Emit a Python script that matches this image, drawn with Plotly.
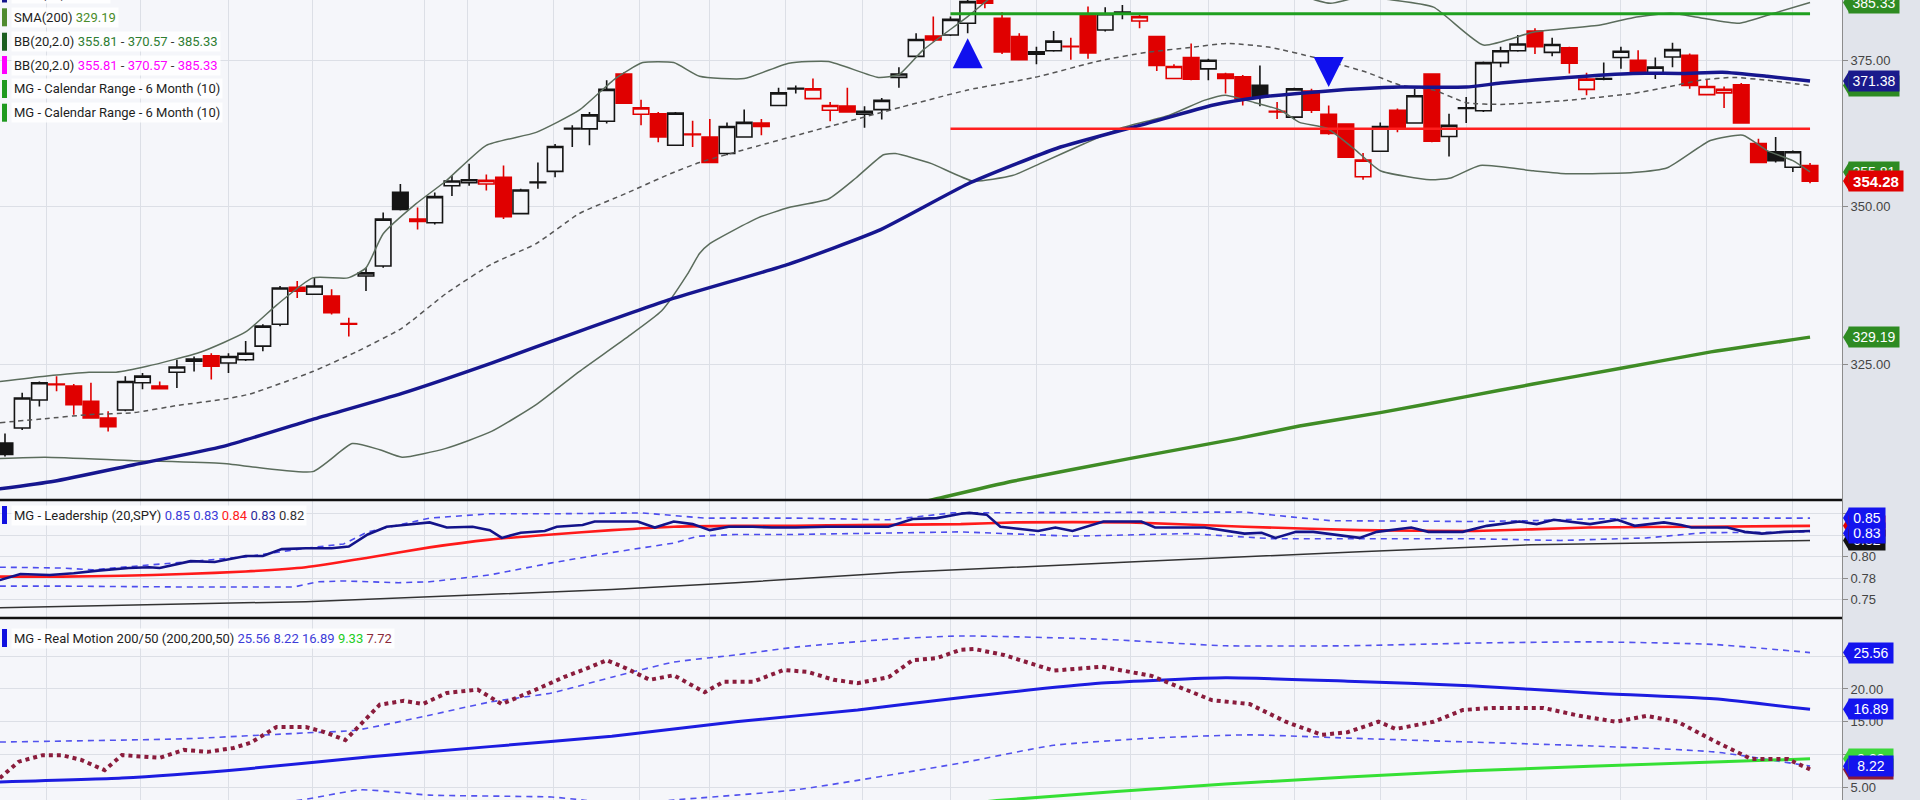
import math
import plotly.graph_objects as go

# ---------------- price panel data (daily candles, index = trading day) ----------------
PREV_CLOSE = 310.0
opens = [313.2, 315.4, 319.6, 322.0, 321.7, 319.4, 316.9, 318.1, 322.2, 321.7,
         323.8, 325.5, 326.3, 325.2, 325.7, 327.8, 331.2, 337.0, 335.9, 335.6,
         331.3, 338.8, 340.4, 352.4, 348.0, 347.4, 353.5, 354.0, 353.8, 354.9,
         348.9, 354.0, 355.9, 363.1, 363.1, 364.4, 372.6, 365.6, 365.7, 360.3,
         362.2, 361.7, 358.9, 361.7, 364.1, 367.1, 370.0, 368.3, 366.3, 367.0,
         365.6, 366.4, 372.0, 375.7, 379.3, 379.5, 381.6, 387.0, 382.5, 379.2,
         376.5, 376.7, 377.5, 383.1, 380.4, 383.5, 382.0, 379.2, 371.8, 375.5,
         373.5, 372.6, 372.1, 370.6, 366.1, 365.1, 369.6, 365.6, 363.9, 355.0,
         359.3, 366.3, 364.1, 372.6, 361.8, 366.6, 366.2, 374.6, 376.7, 380.2,
         376.4, 377.2, 369.9, 371.7, 375.5, 375.0, 372.8, 375.6, 375.9, 369.0,
         369.3, 370.7, 360.6, 359.2, 356.6, 356.9]
highs = [314.6, 320.7, 322.4, 323.2, 322.0, 322.2, 317.9, 323.2, 323.7, 322.4,
         325.7, 326.2, 326.7, 326.7, 328.6, 331.2, 337.2, 338.0, 338.5, 336.7,
         332.2, 340.1, 349.1, 353.8, 349.9, 352.4, 355.2, 357.2, 355.4, 356.9,
         353.0, 357.4, 360.5, 363.7, 366.0, 371.5, 372.9, 368.1, 366.0, 366.0,
         364.5, 364.8, 364.2, 366.4, 364.8, 370.2, 370.6, 371.8, 367.7, 370.2,
         367.0, 368.4, 373.8, 379.8, 382.8, 382.8, 386.5, 387.5, 383.6, 379.8,
         377.4, 380.2, 379.0, 384.6, 384.5, 384.9, 383.4, 379.3, 374.3, 378.0,
         375.3, 372.8, 372.4, 374.1, 367.7, 370.2, 370.0, 367.1, 364.0, 359.0,
         364.2, 366.6, 370.0, 372.7, 365.7, 368.6, 374.8, 377.4, 379.5, 380.7,
         379.0, 377.4, 372.8, 374.6, 377.4, 376.8, 375.5, 378.1, 376.2, 371.6,
         370.4, 371.0, 361.4, 361.7, 359.4, 357.3]
lows = [311.2, 315.1, 318.6, 320.9, 317.4, 316.8, 314.9, 317.9, 321.2, 321.2,
        321.4, 323.9, 322.7, 323.7, 325.5, 327.0, 330.9, 335.3, 335.8, 332.7,
        329.3, 336.4, 340.1, 349.4, 346.3, 347.1, 351.8, 353.5, 352.7, 348.0,
        348.8, 353.0, 354.9, 360.0, 360.3, 364.0, 367.4, 363.7, 360.8, 360.2,
        360.0, 357.3, 358.6, 361.6, 362.0, 367.0, 369.2, 368.2, 364.4, 365.9,
        363.3, 364.7, 370.2, 375.6, 378.3, 379.3, 379.8, 384.3, 376.1, 375.0,
        374.3, 376.5, 375.1, 375.3, 380.1, 382.3, 380.7, 373.1, 371.7, 371.5,
        371.5, 369.2, 367.1, 367.0, 364.8, 364.7, 365.8, 362.1, 358.2, 354.5,
        359.2, 362.5, 364.0, 360.8, 358.4, 364.1, 366.0, 373.8, 376.5, 376.1,
        375.7, 372.7, 368.9, 371.5, 373.5, 372.6, 371.7, 373.8, 370.0, 368.9,
        366.7, 364.0, 357.3, 357.4, 355.8, 353.9]
closes = [311.5, 319.9, 322.2, 321.9, 318.9, 316.9, 315.6, 322.4, 323.2, 321.3,
          324.6, 325.8, 324.7, 326.2, 326.7, 330.9, 336.9, 336.4, 337.2, 333.0,
          331.2, 339.3, 348.0, 349.6, 347.6, 351.7, 354.3, 354.5, 354.4, 348.4,
          352.8, 354.1, 360.1, 363.2, 365.5, 369.9, 367.5, 366.7, 361.7, 365.8,
          362.1, 357.4, 363.5, 364.2, 363.5, 369.3, 370.1, 370.0, 367.1, 366.0,
          366.1, 368.0, 372.6, 378.7, 378.6, 382.3, 385.5, 385.2, 376.5, 375.1,
          376.1, 378.4, 377.4, 376.3, 383.3, 383.6, 382.8, 374.1, 373.9, 371.7,
          375.0, 371.8, 368.3, 368.6, 366.0, 370.0, 366.3, 362.3, 358.3, 357.8,
          363.5, 363.1, 368.8, 361.0, 363.7, 366.7, 374.6, 376.7, 377.9, 377.4,
          377.8, 374.5, 371.7, 371.8, 376.6, 372.7, 373.8, 376.9, 370.6, 370.4,
          369.9, 364.1, 357.4, 357.7, 359.2, 354.28]

# overlays (x = trading-day index)
sma50_x = [-0.3, 2.85, 7.5, 12.7, 17.9, 23.1, 28.3, 33.4, 38.7, 45.6, 50.8, 56.0, 61.2, 66.4,
           70.3, 72.9, 76.8, 81.2, 85.0, 87.0, 90.9, 94.7, 97.6, 99.9, 102.5, 105]
sma50_y = [306.5, 307.6, 310.0, 312.7, 316.7, 320.6, 325.2, 330.1, 335.1, 340.7, 346.1, 353.8,
           359.8, 364.0, 367.2, 368.5, 369.6, 370.3, 370.3, 371.0, 372.0, 372.7, 372.7, 372.9,
           372.2, 371.38]
sma200_x = [48.0, 53.9, 58.6, 65.4, 71.6, 75.3, 80.0, 85.0, 88.9, 94.0, 99.0, 105]
sma200_y = [301.5, 304.9, 307.6, 310.9, 313.8, 315.7, 317.7, 320.1, 322.0, 324.4, 326.8, 329.19]

bb_up_x = [-0.29, 2.33, 4.89, 6.46, 8.26, 11.4, 14.0, 15.8, 17.9, 19.95, 21.0, 22.0, 23.9, 25.65,
           28.0, 30.9, 33.4, 35.5, 37.1, 38.9, 40.4, 43.0, 45.6, 47.9, 50.8, 52.0, 53.4, 56.0,
           57.9, 61.4, 66.6, 72.4, 75.3, 77.1, 78.8, 80.7, 83.1, 86.0, 88.9, 92.8, 94.7, 96.9,
           98.6, 100.9, 102.9, 105.0]
bb_up_y = [322.4, 323.2, 323.8, 323.8, 324.7, 326.9, 330.0, 334.2, 338.5, 338.5, 340.1, 345.6,
           350.5, 354.3, 360.3, 362.5, 366.3, 371.8, 374.6, 374.6, 372.2, 371.8, 374.5, 374.8,
           372.0, 372.5, 376.8, 382.8, 387.6, 393.1, 395.0, 391.3, 386.7, 385.2, 386.3, 385.8,
           384.5, 377.7, 380.0, 381.3, 382.6, 383.4, 382.6, 381.6, 383.4, 385.33]
bb_mid_x = [-0.29, 2.33, 4.89, 7.5, 10.1, 12.7, 14.25, 17.9, 20.5, 23.1, 25.65, 28.3, 30.9, 33.4,
            36.1, 38.7, 40.4, 44.3, 48.2, 52.1, 56.0, 59.9, 63.8, 66.4, 69.0, 71.1, 73.6, 76.3,
            79.2, 81.2, 83.1, 85.0, 87.0, 90.9, 94.7, 96.7, 98.6, 100.5, 102.5, 105.0]
bb_mid_y = [316.2, 316.8, 317.4, 317.7, 318.8, 319.7, 320.5, 323.9, 327.0, 330.6, 336.0, 340.7,
            344.0, 348.9, 352.2, 355.5, 357.4, 360.6, 363.7, 366.8, 369.8, 372.0, 375.0, 376.4,
            377.3, 378.0, 377.3, 375.4, 372.9, 370.6, 369.8, 367.6, 367.3, 368.0, 369.2, 370.3,
            371.5, 372.0, 371.5, 370.57]
bb_lo_x = [-0.29, 2.33, 7.5, 12.7, 17.9, 20.2, 21.8, 23.1, 25.65, 28.3, 30.9, 33.4, 36.1, 38.2,
           39.7, 40.4, 41.0, 43.8, 45.6, 47.9, 49.5, 51.1, 51.8, 53.9, 56.3, 58.6, 60.2, 62.8,
           64.9, 67.7, 69.75, 71.0, 72.7, 74.2, 75.3, 76.9, 78.6, 80.0, 82.9, 84.1, 85.8, 88.9,
           90.9, 94.7, 96.7, 99.2, 101.1, 102.5, 104.0, 105.0]
bb_lo_y = [310.9, 311.1, 310.6, 310.2, 309.0, 313.1, 312.2, 311.1, 312.4, 314.9, 318.9, 323.9,
           329.0, 333.3, 339.1, 342.4, 344.0, 348.2, 349.9, 351.3, 354.8, 358.7, 358.9, 357.2,
           354.3, 355.2, 357.2, 360.6, 363.2, 365.4, 368.0, 368.9, 367.6, 366.3, 364.2, 363.2,
           359.4, 356.0, 354.5, 354.8, 356.9, 356.0, 355.5, 355.7, 356.5, 361.1, 362.0, 359.4,
           357.7, 355.81]

cal_x = [55, 105]
cal_high = [383.3, 383.3]
cal_low = [363.1, 363.1]

sig_up_x = [56]
sig_up_y = [378.9]
sig_dn_x = [77]
sig_dn_y = [370.3]

# ---------------- leadership panel ----------------
lead_x = [-0.3, 0.9, 2.6, 4.0, 5.4, 7.2, 8.4, 9.0, 10.8, 12.2, 14.0, 15.0, 16.1, 17.5, 19.0, 20.0,
          21.1, 22.2, 23.2, 24.7, 25.7, 27.2, 28.2, 28.9, 30.0, 31.4, 32.1, 33.6, 34.3, 35.3, 36.8,
          37.8, 38.9, 40.0, 41.0, 42.1, 43.5, 44.6, 46.0, 47.8, 49.6, 51.4, 52.8, 54.2, 55.6, 56.1,
          57.1, 57.9, 60.1, 61.1, 62.1, 63.9, 66.1, 66.9, 69.8, 72.1, 73.1, 73.9, 75.1, 76.1, 78.8,
          79.8, 81.8, 82.8, 84.8, 86.2, 88.1, 89.1, 90.1, 92.2, 93.8, 94.8, 96.5, 97.5, 98.1, 100.2,
          101.2, 102.2, 103.5, 104.4, 105]
lead_y = [0.773, 0.780, 0.779, 0.781, 0.784, 0.787, 0.788, 0.787, 0.795, 0.794, 0.801, 0.801,
          0.809, 0.810, 0.810, 0.812, 0.826, 0.835, 0.837, 0.840, 0.834, 0.835, 0.831, 0.822,
          0.828, 0.830, 0.835, 0.837, 0.841, 0.841, 0.841, 0.834, 0.841, 0.838, 0.831, 0.835,
          0.835, 0.834, 0.834, 0.835, 0.835, 0.835, 0.844, 0.845, 0.850, 0.851, 0.849, 0.835,
          0.830, 0.834, 0.830, 0.841, 0.841, 0.834, 0.834, 0.827, 0.828, 0.822, 0.829, 0.829,
          0.822, 0.829, 0.834, 0.829, 0.829, 0.836, 0.841, 0.838, 0.843, 0.838, 0.843, 0.836,
          0.840, 0.837, 0.834, 0.834, 0.829, 0.827, 0.829, 0.830, 0.830]
lead_ma_x = [-0.3, 3.3, 6.8, 10.4, 14.0, 17.5, 21.1, 24.7, 28.2, 31.8, 35.3, 38.9, 42.5, 46.0,
             49.6, 55.6, 58.8, 65.4, 72.1, 78.8, 85.5, 92.1, 98.8, 105]
lead_ma_y = [0.777, 0.777, 0.778, 0.780, 0.783, 0.788, 0.799, 0.811, 0.820, 0.826, 0.831, 0.835,
             0.836, 0.836, 0.837, 0.838, 0.840, 0.840, 0.835, 0.831, 0.830, 0.834, 0.835, 0.836]
lead_up_x = [-0.3, 3.3, 5.1, 10.4, 14.0, 17.5, 19.7, 21.1, 24.7, 28.2, 31.8, 37.1, 40.7, 46.0,
             51.4, 55.1, 72.1, 75.5, 77.1, 85.5, 88.8, 92.1, 97.2, 105]
lead_up_y = [0.788, 0.787, 0.785, 0.794, 0.800, 0.810, 0.815, 0.829, 0.845, 0.850, 0.850, 0.851,
             0.845, 0.845, 0.843, 0.851, 0.852, 0.845, 0.842, 0.841, 0.842, 0.844, 0.845, 0.845]
lead_lo_x = [-0.3, 3.3, 10.4, 16.8, 18.2, 19.7, 22.9, 24.7, 28.2, 31.8, 35.3, 38.9, 40.3, 42.5,
             46.0, 49.6, 55.6, 62.1, 68.8, 73.8, 78.8, 85.5, 90.5, 95.5, 98.8, 105]
lead_lo_y = [0.766, 0.766, 0.765, 0.765, 0.771, 0.772, 0.770, 0.771, 0.779, 0.793, 0.805, 0.816,
             0.824, 0.826, 0.826, 0.827, 0.829, 0.824, 0.827, 0.821, 0.821, 0.821, 0.819, 0.822,
             0.828, 0.829]
lead_long_x = [-0.3, 17.5, 35.3, 42.5, 52.1, 55.6, 65.4, 78.8, 88.8, 105]
lead_long_y = [0.741, 0.748, 0.762, 0.770, 0.782, 0.785, 0.794, 0.806, 0.814, 0.819]

# ---------------- real motion panel ----------------
rm_x = [-0.3, 0.8, 2.2, 3.3, 4.4, 5.8, 6.8, 8.3, 9.0, 10.4, 11.8, 13.3, 14.3, 15.8, 17.5, 18.6,
        19.8, 21.8, 23.2, 24.3, 25.7, 27.5, 28.2, 28.9, 30.7, 32.5, 33.9, 35.0, 36.1, 37.5, 38.9,
        40.7, 41.8, 43.5, 45.3, 46.7, 48.2, 49.6, 51.4, 52.8, 54.2, 55.6, 56.4, 58.1, 61.0, 63.8,
        66.7, 70.2, 72.4, 74.5, 76.6, 78.1, 79.9, 80.9, 83.1, 84.8, 86.6, 89.5, 91.6, 93.7, 95.5,
        97.3, 99.4, 101.6, 103.7, 105]
rm_y = [6.4, 8.9, 9.9, 9.9, 9.2, 7.6, 9.9, 9.6, 9.5, 10.7, 10.4, 11.0, 11.8, 14.2, 14.2, 13.4,
        12.2, 17.6, 18.2, 17.7, 19.4, 19.9, 18.8, 17.7, 19.7, 21.8, 23.2, 24.4, 23.2, 21.4, 22.1,
        19.5, 21.1, 21.1, 22.9, 22.6, 21.4, 20.9, 21.8, 24.4, 24.7, 26.0, 26.1, 25.2, 22.8, 23.4,
        22.0, 18.3, 17.7, 15.0, 13.0, 13.4, 15.0, 13.9, 15.0, 16.8, 17.1, 17.1, 15.9, 15.0, 15.9,
        15.0, 12.1, 9.3, 9.3, 7.72]
rm_ma_x = [-0.3, 6.8, 14.0, 21.1, 28.2, 35.3, 42.5, 49.6, 55.3, 63.8, 71.0, 78.1, 85.2, 92.3, 99.4, 105]
rm_ma_y = [5.8, 6.4, 7.8, 9.6, 11.2, 12.8, 15.0, 16.8, 18.6, 20.9, 21.7, 21.2, 20.5, 19.4, 18.5, 16.89]
rm_up_x = [-0.3, 10.4, 17.5, 20.4, 24.7, 28.2, 31.8, 35.3, 38.9, 42.5, 46.0, 51.4, 55.6, 63.8,
           71.0, 78.1, 85.2, 92.3, 99.4, 105]
rm_up_y = [11.9, 12.4, 13.3, 13.7, 16.0, 18.0, 19.4, 21.8, 24.1, 25.2, 26.4, 27.6, 28.1, 27.6,
           26.6, 26.6, 27.0, 27.2, 26.8, 25.56]
rm_lo_x = [-0.3, 10.0, 17.2, 20.7, 24.7, 31.8, 33.6, 35.8, 38.9, 46.0, 55.6, 61.0, 66.7, 72.4,
           78.1, 85.2, 92.3, 99.4, 105]
rm_lo_y = [1.0, 1.5, 3.05, 4.6, 3.8, 3.5, 3.05, 2.3, 3.05, 4.6, 8.7, 11.4, 12.5, 13.0, 12.5,
           11.9, 11.3, 10.4, 8.22]
rm_long_x = [52.1, 58.1, 71.0, 85.2, 99.4, 105]
rm_long_y = [1.5, 3.05, 5.5, 7.5, 8.85, 9.33]

# x positions of the vertical grid lines (trading-day index)
grid_x = [2.4, 7.9, 13.0, 17.9, 24.4, 26.9, 31.9, 36.9, 41.0, 45.4, 49.9, 55.0, 60.0, 65.5,
          70.0, 75.0, 80.0, 85.0, 88.5, 94.0, 99.0, 104.0]

# right-axis value badges: (value, label)
top_badges = [(385.33, "385.33", "g"), (370.57, "370.57", "g"), (371.38, "371.38", "navy"),
              (355.81, "355.81", "g"), (354.28, "354.28", "red"), (329.19, "329.19", "g")]
mid_badges = [(0.836, "0.84", "red"), (0.819, "0.82", "black"), (0.8275, "0.83", "blue"),
              (0.845, "0.85", "blue")]
bot_badges = [(7.72, "7.72", "maroon"), (9.33, "9.33", "lime"), (8.22, "8.22", "blue"),
              (16.89, "16.89", "blue"), (25.56, "25.56", "blue")]
lead_legend_vals = ["0.85", "0.83", "0.84", "0.83", "0.82"]
rm_legend_vals = ["25.56", "8.22", "16.89", "9.33", "7.72"]

# ---------------- styles ----------------
PLOT_BG = "#f5f6fa"
PAPER_BG = "#e1e4eb"
GRID = "#dcdfe6"
C_BLACK = "#151515"
C_RED = "#e00000"
BADGE = {"g": "#2e8b22", "navy": "#1a1a8c", "red": "#e00000", "blue": "#1414ee",
         "black": "#111111", "maroon": "#8b1a3a", "lime": "#3ad63a"}
FONT = "Liberation Sans, Arial, sans-serif"
LFONT = "Roboto, Liberation Sans, sans-serif"

fig = go.Figure()

# candles, split into the four hollow/filled x black/red styles
prev_close = [PREV_CLOSE] + closes[:-1]
styles = [
    (lambda o, c, p: c >= o and c >= p, C_BLACK, PLOT_BG),
    (lambda o, c, p: c < o and c < p, C_RED, C_RED),
    (lambda o, c, p: c >= o and c < p, C_RED, PLOT_BG),
    (lambda o, c, p: c < o and c >= p, C_BLACK, C_BLACK),
]
for test, col, fill in styles:
    sel = [i for i in range(len(closes)) if test(opens[i], closes[i], prev_close[i])]
    if not sel:
        continue
    st = dict(line=dict(color=col, width=1.6), fillcolor=fill)
    fig.add_trace(go.Candlestick(
        x=sel, open=[opens[i] for i in sel], high=[highs[i] for i in sel],
        low=[lows[i] for i in sel], close=[closes[i] for i in sel],
        increasing=st, decreasing=st, whiskerwidth=0, showlegend=False,
        hoverinfo="skip", xaxis="x", yaxis="y"))


def add_line(xs, ys, yaxis, color, width, dash=None, shape="linear"):
    ln = dict(color=color, width=width, shape=shape)
    if dash:
        ln["dash"] = dash
    if shape == "spline":
        ln["smoothing"] = 0.5
    fig.add_trace(go.Scatter(x=xs, y=ys, mode="lines", line=ln, xaxis="x", yaxis=yaxis,
                             hoverinfo="skip", showlegend=False))


# price overlays
add_line(bb_up_x, bb_up_y, "y", "#5b6c5c", 1.5, shape="spline")
add_line(bb_lo_x, bb_lo_y, "y", "#5b6c5c", 1.5, shape="spline")
add_line(bb_mid_x, bb_mid_y, "y", "#555555", 1.5, dash="5px,4px", shape="spline")
add_line(sma200_x, sma200_y, "y", "#3f8c25", 3.5, shape="spline")
add_line(sma50_x, sma50_y, "y", "#16168f", 3.5, shape="spline")
add_line(cal_x, cal_high, "y", "#1fa01f", 3)
add_line(cal_x, cal_low, "y", "#ff1f1f", 2.5)
fig.add_trace(go.Scatter(x=sig_up_x, y=sig_up_y, mode="markers", xaxis="x", yaxis="y",
                         marker=dict(symbol="arrow-up", size=30, color="#1010ee", line=dict(width=0)),
                         hoverinfo="skip", showlegend=False))
fig.add_trace(go.Scatter(x=sig_dn_x, y=sig_dn_y, mode="markers", xaxis="x", yaxis="y",
                         marker=dict(symbol="arrow-down", size=30, color="#1010ee", line=dict(width=0)),
                         hoverinfo="skip", showlegend=False))

# leadership
add_line(lead_long_x, lead_long_y, "y2", "#333333", 1.5)
add_line(lead_up_x, lead_up_y, "y2", "#4d4dee", 1.6, dash="6px,5px")
add_line(lead_lo_x, lead_lo_y, "y2", "#4d4dee", 1.6, dash="6px,5px")
add_line(lead_ma_x, lead_ma_y, "y2", "#ff1a1a", 2.6, shape="spline")
add_line(lead_x, lead_y, "y2", "#13138a", 2.6)

# real motion
add_line(rm_up_x, rm_up_y, "y3", "#5252ee", 1.6, dash="6px,5px", shape="spline")
add_line(rm_lo_x, rm_lo_y, "y3", "#5252ee", 1.6, dash="6px,5px", shape="spline")
add_line(rm_long_x, rm_long_y, "y3", "#35e035", 3, shape="spline")
add_line(rm_ma_x, rm_ma_y, "y3", "#1c1ce0", 3, shape="spline")
add_line(rm_x, rm_y, "y3", "#8a1c3c", 4, dash="dot")

# ---------------- annotations / shapes ----------------
annotations = []
shapes = []


def badge(yref, value, text, key, log=False, width=46, bold=False, size=14):
    col = BADGE[key]
    annotations.append(dict(
        xref="paper", x=1, xanchor="left", xshift=6,
        yref=yref, y=math.log10(value) if log else value, yanchor="middle",
        text="<b>%s</b>" % text if bold else text, showarrow=False,
        font=dict(family=FONT, size=size, color="white"),
        bgcolor=col, borderpad=2, width=width, height=16, align="center"))
    shapes.append(dict(
        type="path", xref="paper", xsizemode="pixel", xanchor=1,
        yref=yref, ysizemode="pixel", yanchor=value,
        path="M1,0 L7,10 L7,-10 Z", fillcolor=col, line=dict(width=0), layer="above"))


for v, t, k in top_badges:
    badge("y", v, t, k, log=True, width=50 if k == "red" else 46, bold=(k == "red"),
          size=15 if k == "red" else 14)
for v, t, k in mid_badges:
    badge("y2", v, t, k, width=32)
for v, t, k in bot_badges:
    badge("y3", v, t, k, width=40)

PLOT_W = 1842.0
FIG_H = 800.0


def legend_line(ypx, label, values, bar):
    parts = [label]
    for txt, col in values:
        parts.append('<span style="color:%s">%s</span>' % (col, txt))
    annotations.append(dict(
        xref="paper", yref="paper", x=11 / PLOT_W, y=1 - ypx / FIG_H,
        xanchor="left", yanchor="middle", text=" ".join(parts) if values else label,
        showarrow=False, font=dict(family=LFONT, size=13, color="#1e1e1e"),
        bgcolor="rgba(255,255,255,0.85)", borderpad=2))
    shapes.append(dict(type="rect", xref="paper", yref="paper", x0=2 / PLOT_W, x1=7 / PLOT_W,
                       y0=1 - (ypx + 9) / FIG_H, y1=1 - (ypx - 9) / FIG_H,
                       fillcolor=bar, line=dict(width=0), layer="above"))


DG = "#2e7d32"
MG = "#ff00ff"
legend_line(-6.5, "SMA(50)", [("%.2f" % sma50_y[-1], "#1a1a9a")], "#14148c")
legend_line(17.3, "SMA(200)", [("%.2f" % sma200_y[-1], "#4a8c2a")], "#4f8a2f")
legend_line(41.7, "BB(20,2.0)", [("%.2f" % bb_lo_y[-1], DG), ("-", "#333"), ("%.2f" % bb_mid_y[-1], DG),
                                 ("-", "#333"), ("%.2f" % bb_up_y[-1], DG)], "#1b5e20")
legend_line(65.0, "BB(20,2.0)", [("%.2f" % bb_lo_y[-1], MG), ("-", "#333"), ("%.2f" % bb_mid_y[-1], MG),
                                 ("-", "#333"), ("%.2f" % bb_up_y[-1], MG)], "#ff00ff")
legend_line(89.0, "MG - Calendar Range - 6 Month (10)", [], "#1f9a1f")
legend_line(112.7, "MG - Calendar Range - 6 Month (10)", [], "#1f9a1f")
lead_cols = ["#3c3cd8", "#3c3cd8", "#ff2020", "#2a2a9a", "#333333"]
legend_line(515, "MG - Leadership (20,SPY)", list(zip(lead_legend_vals, lead_cols)), "#1010e0")
rm_cols = ["#3c3cd8", "#3c3cd8", "#3c3cd8", "#22cc22", "#8a2a3a"]
legend_line(638, "MG - Real Motion 200/50 (200,200,50)", list(zip(rm_legend_vals, rm_cols)), "#1010e0")

# panel separators
for yp in (0.375, 0.2275):
    shapes.append(dict(type="line", xref="paper", yref="paper", x0=0, x1=1, y0=yp, y1=yp,
                       line=dict(color="#111111", width=2.5), layer="above"))

xr = [-0.29, 106.86]
axis_common = dict(side="right", anchor="x", showgrid=True, gridcolor=GRID, gridwidth=1,
                   zeroline=False, showline=True, linecolor="#8c8c8c", linewidth=1,
                   ticks="outside", ticklen=5, tickcolor="#8c8c8c",
                   tickfont=dict(family=FONT, size=13, color="#444444"), fixedrange=True)

fig.update_layout(
    width=1920, height=800,
    margin=dict(l=0, r=78, t=0, b=0),
    paper_bgcolor=PAPER_BG, plot_bgcolor=PLOT_BG,
    showlegend=False, hovermode=False,
    boxgap=0.06, boxgroupgap=0.04,
    xaxis=dict(domain=[0, 1], range=xr, anchor="y3", tickvals=grid_x, showticklabels=False,
               ticks="", showgrid=True, gridcolor=GRID, gridwidth=1, zeroline=False,
               showline=False, rangeslider=dict(visible=False), fixedrange=True),
    yaxis=dict(domain=[0.375, 1], type="log", range=[math.log10(304.9), math.log10(385.8)],
               tickvals=[325, 350, 375], ticktext=["325.00", "350.00", "375.00"], **axis_common),
    yaxis2=dict(domain=[0.2275, 0.375], range=[0.729, 0.866],
                tickvals=[0.75, 0.775, 0.8, 0.825, 0.85],
                ticktext=["0.75", "0.78", "0.80", "0.83", "0.85"], **axis_common),
    yaxis3=dict(domain=[0, 0.2275], range=[3.05, 30.84], tickvals=[5, 10, 15, 20, 25],
                ticktext=["5.00", "10.00", "15.00", "20.00", "25.00"], **axis_common),
    annotations=annotations,
    shapes=shapes,
)

fig.write_html("out.html", config={"staticPlot": True},
               post_script="document.body.style.margin='0';document.body.style.overflow='hidden';")
